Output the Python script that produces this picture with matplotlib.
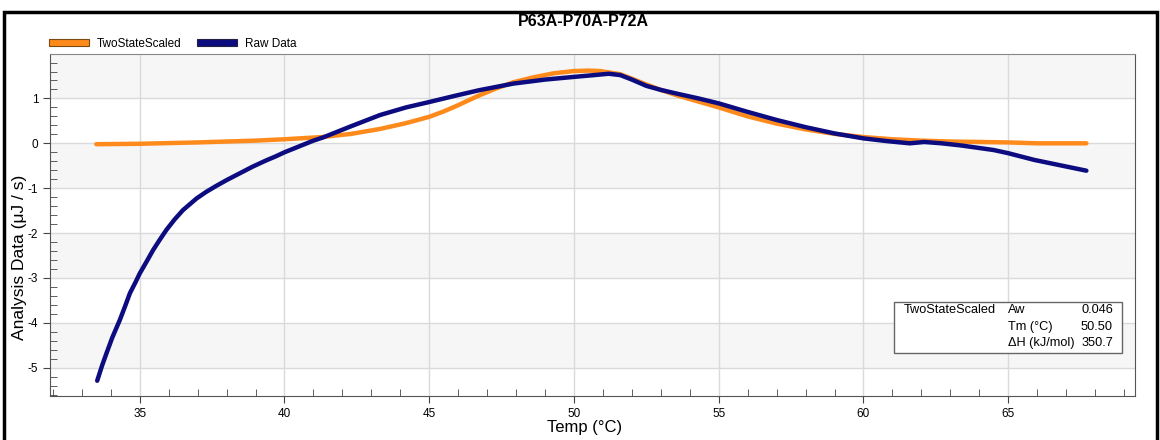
import matplotlib
matplotlib.use("Agg")
import matplotlib.pyplot as plt
from matplotlib.patches import Rectangle, Patch
from matplotlib.ticker import MultipleLocator

plt.rcParams['font.family'] = ['Liberation Sans', 'DejaVu Sans']
plt.rcParams['axes.unicode_minus'] = False

title = "P63A-P70A-P72A"

# TwoStateScaled fit
fit_temp = [33.5, 35.0, 37.0, 39.0, 40.0, 41.3, 42.3, 43.3, 44.2, 45.0, 45.5, 46.0,
            46.7, 47.3, 47.9, 48.6, 49.3, 50.0, 50.5, 50.9, 51.6, 52.0, 52.5, 53.0,
            53.6, 54.3, 55.0, 56.0, 57.0, 58.0, 59.0, 60.0, 61.0, 62.0, 63.0, 64.0,
            65.0, 66.0, 67.7]
fit_vals = [-0.02, -0.01, 0.02, 0.06, 0.09, 0.14, 0.21, 0.32, 0.45, 0.59, 0.71, 0.85,
            1.06, 1.22, 1.36, 1.47, 1.56, 1.61, 1.62, 1.61, 1.54, 1.44, 1.31, 1.19,
            1.06, 0.93, 0.80, 0.60, 0.44, 0.31, 0.21, 0.14, 0.09, 0.06, 0.04, 0.03,
            0.02, 0.0, 0.0]

# Raw Data
raw_temp = [33.53, 33.7, 33.85, 34.05, 34.31, 34.5, 34.66, 34.85, 35.0, 35.25, 35.46,
            35.7, 35.92, 36.2, 36.49, 36.96, 37.3, 37.64, 38.0, 38.45, 38.9, 39.37,
            39.7, 40.0, 40.5, 41.0, 41.33, 42.3, 43.3, 44.2, 45.0, 45.9, 46.7, 47.9,
            49.0, 50.0, 50.7, 51.2, 51.6, 52.0, 52.5, 53.0, 53.6, 54.3, 55.0, 56.0,
            57.0, 58.0, 59.0, 60.0, 60.8, 61.6, 62.1, 62.7, 63.4, 64.5, 65.0, 65.9,
            66.8, 67.7]
raw_vals = [-5.29, -4.95, -4.68, -4.33, -3.94, -3.62, -3.34, -3.10, -2.90, -2.62, -2.38,
            -2.14, -1.93, -1.70, -1.49, -1.23, -1.08, -0.95, -0.82, -0.67, -0.52, -0.38,
            -0.29, -0.20, -0.07, 0.06, 0.13, 0.38, 0.63, 0.80, 0.92, 1.06, 1.18, 1.33,
            1.42, 1.48, 1.52, 1.55, 1.52, 1.42, 1.28, 1.19, 1.10, 1.00, 0.89, 0.70,
            0.52, 0.36, 0.22, 0.11, 0.05, 0.0, 0.03, 0.0, -0.05, -0.15, -0.22, -0.37,
            -0.49, -0.61]

param_names = ["Aw", "Tm (°C)", "ΔH (kJ/mol)"]
param_vals = ["0.046", "50.50", "350.7"]

orange = "#FF8A1C"
navy = "#0C0C80"

fig = plt.figure(figsize=(11.6, 4.4), dpi=100)
ax = fig.add_axes([50 / 1160, 44 / 440, 1085 / 1160, 342 / 440])

ax.set_xlim(31.9, 69.38)
ax.set_ylim(-5.63, 1.99)

# alternating bands
for lo, hi in [(1, 2.5), (-1, 0), (-3, -2), (-5, -4)]:
    ax.axhspan(lo, hi, color="#F6F6F6", zorder=0, lw=0)

ax.xaxis.set_major_locator(MultipleLocator(5))
ax.xaxis.set_minor_locator(MultipleLocator(1))
ax.yaxis.set_major_locator(MultipleLocator(1))
ax.yaxis.set_minor_locator(MultipleLocator(0.2))
ax.grid(True, which="major", color="#DADADA", lw=1.0, zorder=0.5)
ax.set_axisbelow(True)

ax.tick_params(which="major", direction="out", length=5, labelsize=8.5, color="#444444")
ax.tick_params(which="minor", direction="in", length=5, color="#444444")
for s in ["left", "bottom", "right"]:
    ax.spines[s].set_color("#555555")
ax.spines["top"].set_color("#888888")

ax.plot(fit_temp, fit_vals, color=orange, lw=3.2, solid_capstyle="round", zorder=3)
ax.plot(raw_temp, raw_vals, color=navy, lw=3.2, solid_capstyle="round", zorder=4)

ax.set_xlabel("Temp (°C)", fontsize=12)
ax.xaxis.set_label_coords(0.493, -0.07)
ax.set_ylabel("Analysis Data (μJ / s)", fontsize=12.5)
ax.yaxis.set_label_coords(-0.021, 0.406)

fig.text(0.503, 0.95, title, ha="center", va="center", fontsize=11.5, fontweight="bold")

handles = [Patch(facecolor=orange, edgecolor="#7a4a10", lw=0.8),
           Patch(facecolor=navy, edgecolor="#222244", lw=0.8)]
fig.legend(handles, ["TwoStateScaled", "Raw Data"], loc="center left",
           bbox_to_anchor=(38 / 1160, 1 - 44 / 440), ncol=2, frameon=False,
           fontsize=8.5, handlelength=3.4, handleheight=0.55, columnspacing=1.3,
           handletextpad=0.7)

# parameter box
bx0, by0, bx1, by1 = 894 / 1160, 1 - 353 / 440, 1122 / 1160, 1 - 302 / 440
fig.patches.append(Rectangle((bx0, by0), bx1 - bx0, by1 - by0, transform=fig.transFigure,
                             facecolor="white", edgecolor="#666666", lw=1.0, zorder=5))
row_y = [310, 327, 343]
fig.text(904 / 1160, 1 - row_y[0] / 440, "TwoStateScaled", fontsize=9.2, va="center", zorder=6)
for name, val, ry in zip(param_names, param_vals, row_y):
    fig.text(1008 / 1160, 1 - ry / 440, name, fontsize=9.2, va="center", zorder=6)
    fig.text(1113 / 1160, 1 - ry / 440, val, fontsize=9.2, va="center", ha="right", zorder=6)

# outer frame
fig.patches.append(Rectangle((4 / 1160, -0.02), 1153 / 1160, 1.02 - 12 / 440,
                             transform=fig.transFigure, fill=False, edgecolor="black",
                             lw=2.5, clip_on=False))

fig.savefig("out.png", dpi=100)
